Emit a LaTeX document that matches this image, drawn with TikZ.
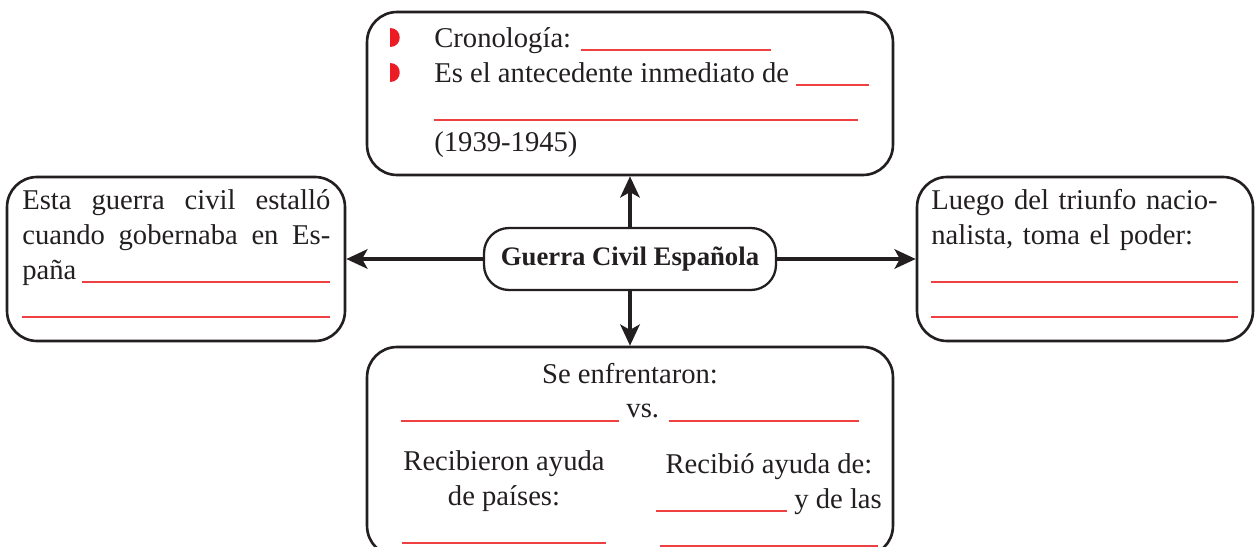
\documentclass[tikz,border=0pt]{standalone}
\usepackage{fontspec}
\setmainfont{Liberation Serif}
\usepackage{tikz}
\usetikzlibrary{arrows.meta}

\definecolor{inkdark}{RGB}{35,31,32}
\definecolor{linered}{RGB}{238,64,64}
\definecolor{bulletred}{RGB}{237,28,36}
\newcommand{\blank}[1]{\textcolor{linered}{\rule[-2pt]{#1}{1.1pt}}}
\newcommand{\redfill}{{\color{linered}\leaders\hrule height -0.9pt depth 2pt\hfill}}

\begin{document}
\begin{tikzpicture}[x=0.02cm,y=-0.02cm,
  box/.style={draw=inkdark,line width=1.5pt,rounded corners=0.6cm,rectangle},
  txt/.style={inner sep=0pt,text=inkdark,font=\fontsize{16.3}{19.8}\selectfont},
  conn/.style={draw=inkdark,line width=2.4pt,-{Stealth[length=12pt,width=11pt,inset=3pt]}}]
\clip (0,0) rectangle (1255,547);

\node[box,minimum width=10.52cm,minimum height=3.26cm] (crono) at (630,93.5) {};
\node[box,minimum width=6.76cm,minimum height=3.28cm] (gobierno) at (176,259) {};
\node[box,minimum width=6.72cm,minimum height=3.28cm] (poder) at (1085,259) {};
\node[box,minimum width=10.52cm,minimum height=4.18cm] (bandos) at (630,451.5) {};
\node[draw=inkdark,line width=1.3pt,rounded corners=0.5cm,minimum width=5.84cm,minimum height=1.24cm,text=inkdark,font=\bfseries\fontsize{15.2}{18}\selectfont] (guerra) at (630,259) {Guerra Civil Española};

\draw[conn] (guerra.west) -- (gobierno.east);
\draw[conn] (guerra.east) -- (poder.west);
\draw[conn] (guerra.north) -- (crono.south);
\draw[conn] (guerra.south) -- (bandos.north);

\fill[bulletred] (390,28) .. controls (403.3,28) and (403.3,47) .. (390,47) -- cycle;
\fill[bulletred] (390,63) .. controls (403.3,63) and (403.3,82) .. (390,82) -- cycle;
\node[txt,anchor=base west,align=left] (cronotxt) at (434,152) {Cronología: \blank{3.8cm}\\Es el antecedente inmediato de \blank{1.46cm}\\\blank{8.48cm}\\(1939-1945)};

\node[txt,anchor=base west,text width=6.16cm,align=justify] (gobiernotxt) at (22,210) {Esta guerra civil estalló\linebreak cuando gobernaba en Es-\linebreak paña\kern3pt\redfill\\\mbox{}\redfill};

\node[txt,anchor=base west,text width=6.14cm,align=left] (podertxt) at (931,210) {Luego del triunfo nacio-\\nalista, toma el poder:\\\mbox{}\redfill\\\mbox{}\redfill};

\node[txt,anchor=base,align=center] (enfrentaron) at (630,418) {Se enfrentaron:\\\blank{4.36cm} vs. \blank{3.8cm}};
\node[txt,anchor=base,align=center] (paises) at (504,540) {Recibieron ayuda\\de países:\\\blank{4.1cm}};
\node[txt,anchor=base,align=center] (ayudade) at (769,543) {Recibió ayuda de:\\\blank{2.62cm} y de las\\\blank{4.36cm}};
\end{tikzpicture}
\end{document}
